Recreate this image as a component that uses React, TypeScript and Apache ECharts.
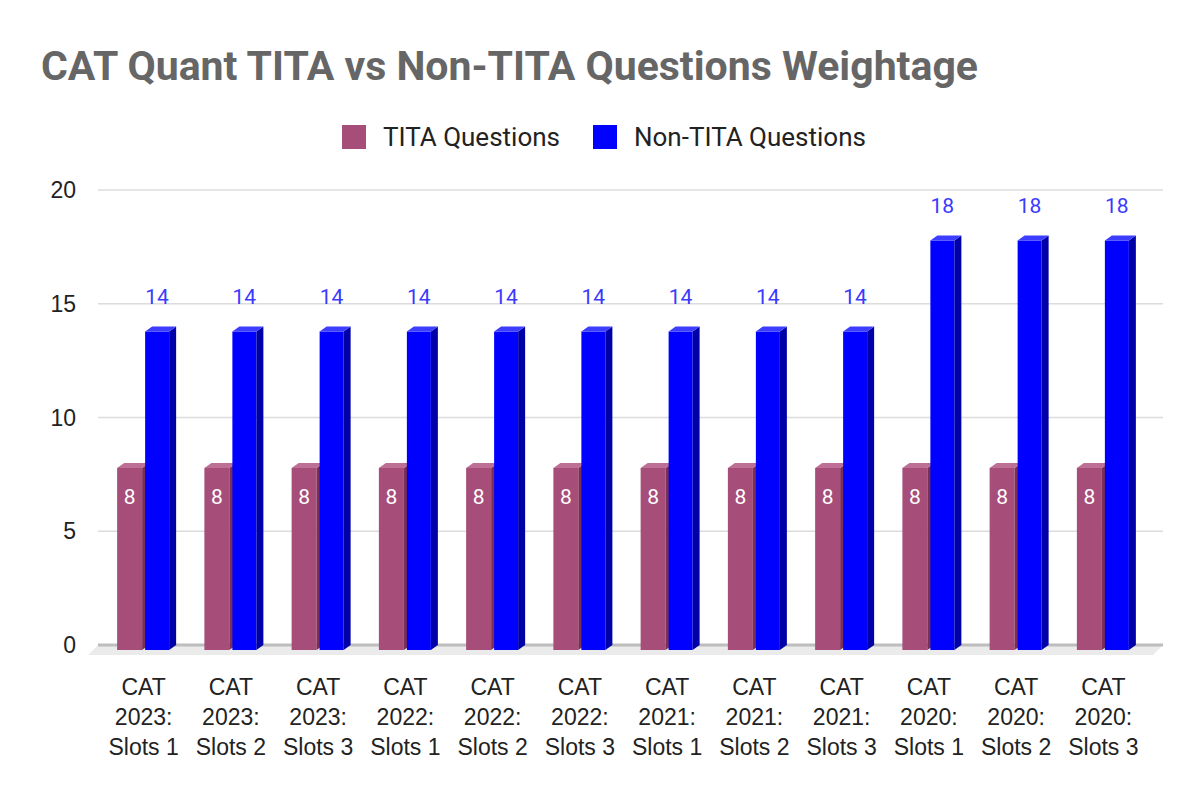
import { useEffect, useRef } from "react";
import * as echarts from "echarts";

const CATEGORIES = [
  "CAT\n2023:\nSlots 1", "CAT\n2023:\nSlots 2", "CAT\n2023:\nSlots 3",
  "CAT\n2022:\nSlots 1", "CAT\n2022:\nSlots 2", "CAT\n2022:\nSlots 3",
  "CAT\n2021:\nSlots 1", "CAT\n2021:\nSlots 2", "CAT\n2021:\nSlots 3",
  "CAT\n2020:\nSlots 1", "CAT\n2020:\nSlots 2", "CAT\n2020:\nSlots 3",
];
const TITA = [8, 8, 8, 8, 8, 8, 8, 8, 8, 8, 8, 8];
const NON_TITA = [14, 14, 14, 14, 14, 14, 14, 14, 14, 18, 18, 18];
const Y_TICKS = [0, 5, 10, 15, 20];

const FONT = "Roboto, Arial, sans-serif";
const AXIS_FONT = "'Liberation Sans', Arial, sans-serif";
const DX = 7;
const DY = 5;

interface BarLook {
  left: number;
  right: number;
  front: string;
  side: string;
  top: string;
  labelColor: string;
  labelDy: (y: number) => number;
}

const PINK: BarLook = {
  left: -26.5, right: -1.5,
  front: "#a64d79", side: "#7a2f55", top: "#bd6f95",
  labelColor: "#ffffff",
  labelDy: (y) => y + 34,
};
const BLUE: BarLook = {
  left: 1.5, right: 25.5,
  front: "#0000ff", side: "#0000a8", top: "#3d3dff",
  labelColor: "#3a3aff",
  labelDy: (y) => y - 30,
};

function barRenderer(look: BarLook) {
  return (_params: any, api: any) => {
    const idx = api.value(0);
    const val = api.value(1);
    const top = api.coord([idx, val]);
    const base = api.coord([idx, 0]);
    const cx = base[0];
    const x0 = cx + look.left;
    const x1 = cx + look.right;
    const yt = top[1] + DY;
    const yb = base[1] + DY;
    return {
      type: "group",
      children: [
        { type: "rect", shape: { x: x0, y: yt, width: x1 - x0, height: yb - yt }, style: { fill: look.front } },
        { type: "polygon", shape: { points: [[x1, yt], [x1, yb], [x1 + DX, yb - DY], [x1 + DX, yt - DY]] }, style: { fill: look.side } },
        { type: "polygon", shape: { points: [[x0, yt], [x1, yt], [x1 + DX, yt - DY], [x0 + DX, yt - DY]] }, style: { fill: look.top } },
        {
          type: "text",
          style: {
            text: String(val),
            x: (x0 + x1) / 2,
            y: look.labelDy(top[1]),
            align: "center",
            verticalAlign: "middle",
            fill: look.labelColor,
            font: `21px ${FONT}`,
          },
        },
      ],
    };
  };
}

function decorRenderer(params: any, api: any) {
  const cs = params.coordSys;
  const y0 = api.coord([0, 0])[1];
  const xl = cs.x - 2;
  const xr = cs.x + cs.width + 16;
  const children: any[] = [
    {
      type: "polygon",
      shape: { points: [[xl, y0], [xr, y0], [xr - 10, y0 + 10], [xl - 10, y0 + 10]] },
      style: { fill: "#ebebeb" },
    },
  ];
  Y_TICKS.forEach((t) => {
    const y = api.coord([0, t])[1];
    children.push({
      type: "line",
      shape: { x1: xl, y1: y, x2: xr, y2: y },
      style: { stroke: t === 0 ? "#bdbdbd" : "#dcdcdc", lineWidth: t === 0 ? 3 : 1.5 },
    });
  });
  return { type: "group", children };
}

export default function App() {
  const ref = useRef<HTMLDivElement>(null);

  useEffect(() => {
    if (!ref.current) return;
    const chart = echarts.init(ref.current, null, { renderer: "svg" });
    chart.setOption({
      animation: false,
      backgroundColor: "#ffffff",
      title: {
        text: "CAT Quant TITA vs Non-TITA Questions Weightage",
        left: 36,
        top: 40,
        textStyle: { fontFamily: FONT, fontSize: 41, fontWeight: "bold", color: "#666666" },
      },
      legend: {
        top: 119,
        left: 337,
        icon: "rect",
        itemWidth: 24,
        itemHeight: 24,
        itemGap: 33,
        data: ["TITA Questions", "Non-TITA Questions"],
        textStyle: { fontFamily: FONT, fontSize: 26, color: "#222222", padding: [0, 0, 0, 12] },
      },
      grid: { left: 100, right: 53, top: 190, bottom: 155 },
      xAxis: {
        type: "category",
        data: CATEGORIES,
        axisLine: { show: false },
        axisTick: { show: false },
        axisLabel: {
          interval: 0,
          margin: 27,
          fontFamily: AXIS_FONT,
          fontSize: 23,
          lineHeight: 30,
          color: "#222222",
        },
      },
      yAxis: {
        type: "value",
        min: 0,
        max: 20,
        interval: 5,
        axisLine: { show: false },
        axisTick: { show: false },
        splitLine: { show: false },
        axisLabel: { margin: 24, fontFamily: AXIS_FONT, fontSize: 23, color: "#222222" },
      },
      series: [
        {
          name: "decor",
          type: "custom",
          z: 1,
          silent: true,
          renderItem: decorRenderer,
          data: [[0, 0]],
        },
        {
          name: "TITA Questions",
          type: "custom",
          z: 2,
          itemStyle: { color: PINK.front },
          renderItem: barRenderer(PINK),
          data: TITA.map((v, i) => [i, v]),
        },
        {
          name: "Non-TITA Questions",
          type: "custom",
          z: 3,
          itemStyle: { color: BLUE.front },
          renderItem: barRenderer(BLUE),
          data: NON_TITA.map((v, i) => [i, v]),
        },
      ],
    });
    return () => chart.dispose();
  }, []);

  return <div ref={ref} style={{ width: "1200px", height: "800px", margin: "-8px" }} />;
}
